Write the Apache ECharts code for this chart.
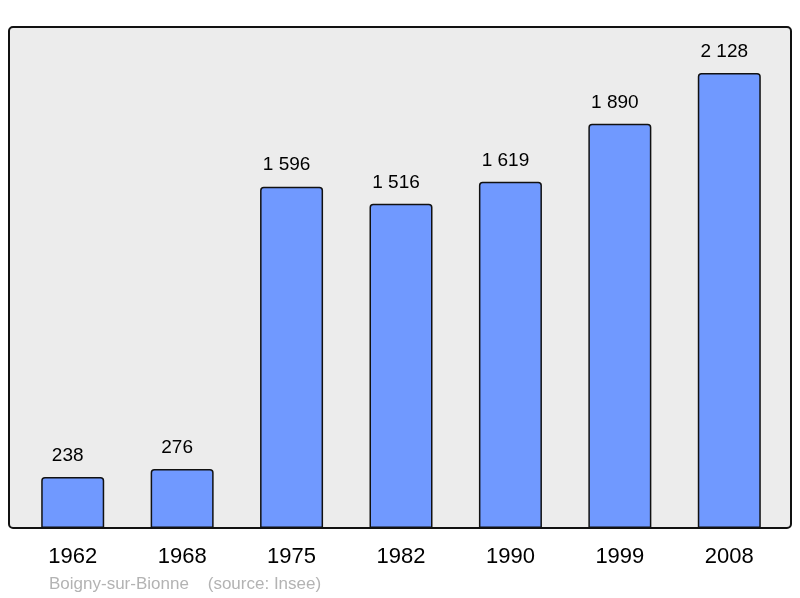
<!DOCTYPE html>
<html>
<head>
<meta charset="utf-8">
<script src="https://cdn.jsdelivr.net/npm/echarts@6/dist/echarts.min.js"></script>
<style>
  html, body { margin: 0; padding: 0; background: #fff; }
  #chart { width: 800px; height: 598px; }
</style>
</head>
<body>
<div id="chart"></div>
<script>
const years = ['1962', '1968', '1975', '1982', '1990', '1999', '2008'];
const population = [238, 276, 1596, 1516, 1619, 1890, 2128];
const footer = 'Boigny-sur-Bionne    (source: Insee)';

const chart = echarts.init(document.getElementById('chart'));

// espace comme séparateur de milliers
const fmt = v => String(v).replace(/\B(?=(\d{3})+(?!\d))/g, ' ');

const option = {
    animation: false,
    textStyle: { fontFamily: 'Liberation Sans, Arial, sans-serif' },
    graphic: [
        {
            type: 'rect',
            z: -10,
            shape: { x: 9, y: 27, width: 782, height: 501, r: 4 },
            style: { fill: '#ececec', stroke: '#111', lineWidth: 2 }
        },
        {
            type: 'text',
            left: 49,
            top: 576,
            style: {
                text: footer,
                fill: '#b3b3b3',
                fontSize: 17,
                fontFamily: 'Liberation Sans, Arial, sans-serif'
            }
        }
    ],
    grid: {
        left: 18,
        right: 16,
        top: 27,
        bottom: 70
    },
    xAxis: {
        type: 'category',
        data: years,
        axisLine: { show: false },
        axisTick: { show: false },
        axisLabel: {
            color: '#000',
            fontSize: 22,
            margin: 18
        }
    },
    yAxis: {
        type: 'value',
        min: 0,
        max: 2343,
        show: false,
        splitLine: { show: false }
    },
    series: [
        {
            type: 'bar',
            data: population,
            barWidth: 63,
            itemStyle: {
                color: '#7099ff',
                borderColor: '#111',
                borderWidth: 1.5,
                borderRadius: [3, 3, 0, 0]
            },
            label: {
                show: true,
                position: 'top',
                distance: 12,
                offset: [-5, 0],
                color: '#000',
                fontSize: 19,
                formatter: p => fmt(p.value)
            }
        }
    ]
};

chart.setOption(option);
</script>
</body>
</html>
